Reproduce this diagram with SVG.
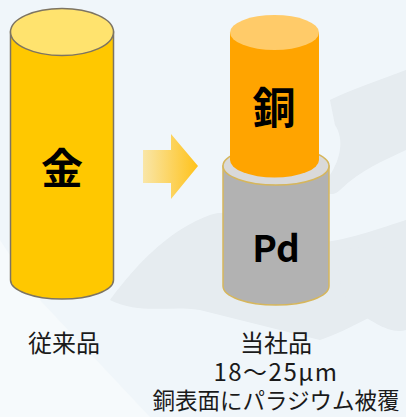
<svg xmlns="http://www.w3.org/2000/svg" width="406" height="417" viewBox="0 0 406 417">
  <defs>
    <linearGradient id="arrowFill" x1="0" y1="0" x2="1" y2="0">
      <stop offset="0" stop-color="#F9E6A8"/>
      <stop offset="1" stop-color="#FFC21A"/>
    </linearGradient>
    <style>
      .lbl { font-family: "Noto Sans CJK JP", "Noto Sans", sans-serif; fill: #1a1a1a; text-anchor: middle; }
      .big { font-family: "Noto Sans CJK JP", "Liberation Sans", sans-serif; font-weight: bold; fill: #000; text-anchor: middle; }
      .gold-side { fill: #FFC800; stroke: #7D7462; stroke-width: 1.5; }
      .gold-top { fill: #FFE36E; stroke: #7D7462; stroke-width: 1.5; }
      .pd-side { fill: #B2B2B2; stroke: #D6B65C; stroke-width: 1.5; }
      .pd-top { fill: #D9D9D9; stroke: #D6B65C; stroke-width: 1.5; }
      .cu-side { fill: #FFA400; }
      .cu-top { fill: #FFCB69; }
    </style>
  </defs>

  <!-- backdrop -->
  <rect width="406" height="417" fill="#F0F6FA"/>
  <g fill="#E5EBEF" opacity="0.9">
    <path d="M330 100 C350 90 380 80 406 70 L406 150 C385 160 360 170 340 190 C330 200 320 190 330 175 C340 160 345 140 335 125 Z"/>
    <path d="M110 300 C140 260 170 230 210 215 C240 205 260 230 280 240 C320 250 360 235 406 220 L406 300 C380 310 350 330 320 340 C280 330 240 320 200 310 C170 305 140 315 110 300 Z"/>
    <path d="M340 250 C360 245 385 250 406 245 L406 330 C390 335 370 320 355 310 C345 300 335 280 340 250 Z"/>
  </g>
  <path d="M0 240 L40 300 L150 417 L0 417 Z" fill="#F6FAFC"/>

  <!-- arrow -->
  <g id="arrow">
    <path d="M143 150 H171 V134 L198 166 L171 199 V183 H143 Z" fill="url(#arrowFill)"/>
  </g>

  <!-- gold wire -->
  <g id="gold">
    <path class="gold-side" d="M10.5 32 V280 A51.5 19 0 0 0 113.5 280 V32 Z"/>
    <ellipse class="gold-top" cx="62" cy="32" rx="51.5" ry="23.5"/>
    <text class="big" x="62" y="184" font-size="42">金</text>
  </g>

  <!-- palladium layer -->
  <g id="pd">
    <path class="pd-side" d="M223 166 V286 A53 19 0 0 0 329 286 V166 Z"/>
    <ellipse class="pd-top" cx="276" cy="166" rx="53" ry="19"/>
    <text class="big" x="276" y="262" font-size="37" font-family="Liberation Sans, sans-serif">Pd</text>
  </g>

  <!-- copper core -->
  <g id="copper">
    <path class="cu-side" d="M230 32.5 V160 A44.5 17.5 0 0 0 319 160 V32.5 Z"/>
    <ellipse class="cu-top" cx="274.5" cy="32.5" rx="44.5" ry="17.5"/>
    <text class="big" x="274" y="124" font-size="43">銅</text>
  </g>

  <!-- captions -->
  <g id="captions">
    <text class="lbl" x="64" y="352" font-size="24">従来品</text>
    <text class="lbl" x="276" y="352" font-size="24">当社品<tspan x="276" y="381" letter-spacing="1.5">18〜25μm</tspan><tspan x="276" y="409" font-size="22.5">銅表面にパラジウム被覆</tspan></text>
  </g>
</svg>
